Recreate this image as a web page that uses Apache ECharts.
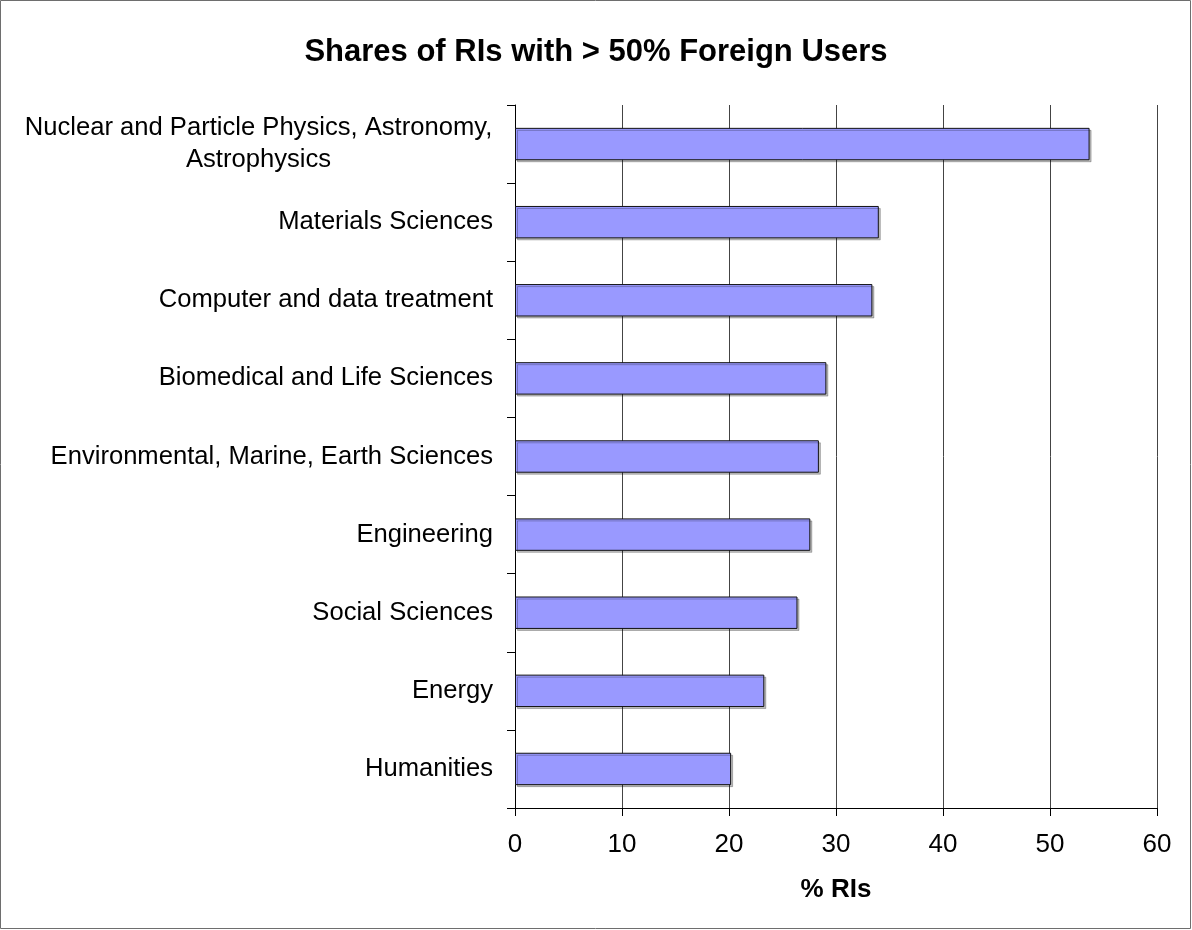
<!DOCTYPE html>
<html>
<head>
<meta charset="utf-8">
<script src="https://cdn.jsdelivr.net/npm/echarts@6/dist/echarts.min.js"></script>
<style>
html,body{margin:0;padding:0;background:#fff;}
#chart{width:1192px;height:930px;}
</style>
</head>
<body>
<div id="chart"></div>
<script>
const titleText = 'Shares of RIs with > 50% Foreign Users';
const categories = [
  'Nuclear and Particle Physics, Astronomy,\nAstrophysics',
  'Materials Sciences',
  'Computer and data treatment',
  'Biomedical and Life Sciences',
  'Environmental, Marine, Earth Sciences',
  'Engineering',
  'Social Sciences',
  'Energy',
  'Humanities'
];
const shares = [53.7, 34.0, 33.4, 29.1, 28.4, 27.6, 26.4, 23.3, 20.2];
const xAxisName = '% RIs';
const xMin = 0, xMax = 60, xStep = 10;

const chart = echarts.init(document.getElementById('chart'));
const font = 'Liberation Sans, Arial, sans-serif';
chart.setOption({
  animation: false,
  backgroundColor: '#fff',
  title: {
    text: titleText,
    left: 'center',
    top: 32,
    textStyle: {fontFamily: font, fontWeight: 'bold', fontSize: 31, color: '#000'}
  },
  graphic: [{
    type: 'rect',
    shape: {x: 0.5, y: 0.5, width: 1190, height: 928},
    style: {fill: 'none', stroke: '#6e6e6e', lineWidth: 1},
    silent: true
  }],
  grid: {left: 515, right: 35, top: 105, bottom: 122},
  xAxis: {
    type: 'value',
    min: xMin, max: xMax, interval: xStep,
    name: xAxisName,
    nameLocation: 'middle',
    nameGap: 69,
    nameTextStyle: {fontFamily: font, fontWeight: 'bold', fontSize: 26, color: '#000'},
    axisLine: {show: true, lineStyle: {color: '#000', width: 1}},
    axisTick: {show: true, length: 8, lineStyle: {color: '#000'}},
    axisLabel: {fontFamily: font, fontSize: 26, color: '#000', margin: 24},
    splitLine: {show: true, lineStyle: {color: '#444', width: 1}}
  },
  yAxis: {
    type: 'category',
    data: categories,
    inverse: true,
    axisLine: {show: true, lineStyle: {color: '#000', width: 1}},
    axisTick: {show: true, length: 8, lineStyle: {color: '#000'}},
    axisLabel: {
      fontFamily: font, fontSize: 25.6, color: '#000', margin: 22, lineHeight: 32, align: 'right',
      formatter: function (v) {
        if (v.indexOf('\n') < 0) return v;
        return v.split('\n').map(function (l) { return '{c|' + l + '}'; }).join('\n');
      },
      rich: {
        c: {fontFamily: font, fontSize: 25.6, color: '#000', lineHeight: 32, width: 469, align: 'center'}
      }
    },
    splitLine: {show: false}
  },
  series: [{
    type: 'bar',
    data: shares,
    barCategoryGap: '58.5%',
    itemStyle: {
      color: '#9999ff',
      borderColor: '#111',
      borderWidth: 1,
      shadowColor: 'rgba(0,0,0,0.25)',
      shadowOffsetX: 2,
      shadowOffsetY: 2,
      shadowBlur: 0
    }
  }]
});
</script>
</body>
</html>
